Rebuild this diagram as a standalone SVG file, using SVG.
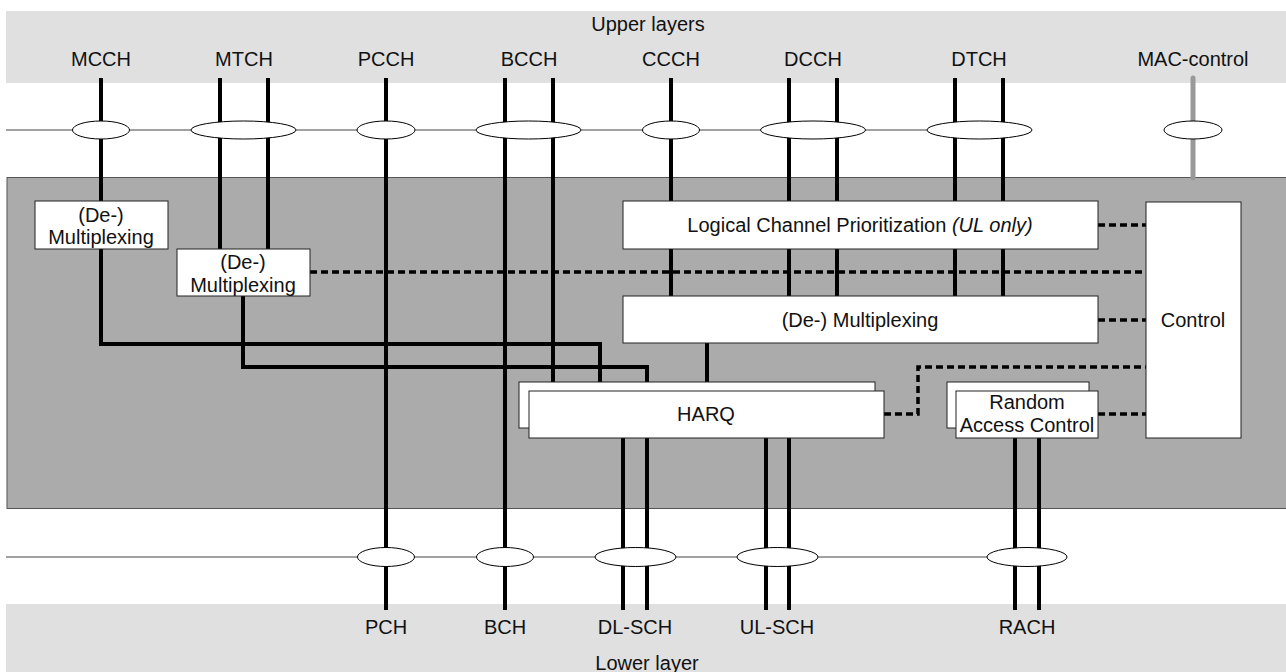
<svg xmlns="http://www.w3.org/2000/svg" width="1286" height="672" viewBox="0 0 1286 672">
<style>
text{font-family:"Liberation Sans",Arial,sans-serif;font-size:20px;fill:#111;text-anchor:middle}
.band{fill:#e0e0e0}
.thin{stroke:#444;stroke-width:1;fill:none}
.ch{stroke:#000;stroke-width:4;fill:none;stroke-linejoin:miter}
.dash{stroke:#000;stroke-width:3.5;fill:none;stroke-dasharray:7 4}
.ell{fill:#fff;stroke:#000;stroke-width:1}
.box{fill:#fff;stroke:#222;stroke-width:1}
</style>
<rect width="1286" height="672" fill="#fff"/>
<rect class="band" x="6" y="11" width="1280" height="72"/>
<rect class="band" x="6" y="604" width="1280" height="68"/>
<text x="648" y="31">Upper layers</text>
<text x="647" y="670">Lower layer</text>
<g id="upper-labels">
<text x="101" y="66">MCCH</text>
<text x="244" y="66">MTCH</text>
<text x="386" y="66">PCCH</text>
<text x="529" y="66">BCCH</text>
<text x="671" y="66">CCCH</text>
<text x="813" y="66">DCCH</text>
<text x="979" y="66">DTCH</text>
<text x="1193" y="66">MAC-control</text>
</g>
<g id="lower-labels">
<text x="386" y="634">PCH</text>
<text x="505" y="634">BCH</text>
<text x="635" y="634">DL-SCH</text>
<text x="777" y="634">UL-SCH</text>
<text x="1027" y="634">RACH</text>
</g>
<path class="thin" d="M6 130H927M6 557H987"/>
<rect id="mac-entity" x="7" y="177.5" width="1280" height="331" fill="#ababab" stroke="#555" stroke-width="1"/>
<g id="connectors">
<path class="ch" d="M101 78V344H600V382"/>
<path class="ch" d="M220 78V249M268 78V249"/>
<path class="ch" d="M243 296V367H647V382"/>
<path class="ch" d="M386 78V610"/>
<path class="ch" d="M505 78V610M553 78V382"/>
<path class="ch" d="M671 78V296M789 78V296M837 78V296M955 78V296M1003 78V296"/>
<path class="ch" d="M707 343V382"/>
<path class="ch" d="M623 438V610M647 438V610M766 438V610M789 438V610M1015 438V610M1039 438V610"/>
<path d="M1193 78V178" stroke="#999" stroke-width="5" stroke-linecap="round" fill="none"/>
<path class="dash" d="M1098 225H1146"/>
<path class="dash" d="M310 272H1146"/>
<path class="dash" d="M1098 320H1146"/>
<path class="dash" d="M884 414H918V367H1146"/>
<path class="dash" d="M1098 414H1146"/>
</g>
<g id="sap-upper">
<ellipse class="ell" cx="101" cy="130" rx="28.5" ry="9"/>
<ellipse class="ell" cx="243.5" cy="130" rx="52.5" ry="9"/>
<ellipse class="ell" cx="386" cy="130" rx="29" ry="9"/>
<ellipse class="ell" cx="528.5" cy="130" rx="52.5" ry="9"/>
<ellipse class="ell" cx="671" cy="130" rx="28.5" ry="9"/>
<ellipse class="ell" cx="813" cy="130" rx="52.5" ry="9"/>
<ellipse class="ell" cx="979.5" cy="130" rx="52.5" ry="9"/>
<ellipse class="ell" cx="1193" cy="130" rx="29" ry="9"/>
</g>
<g id="sap-lower">
<ellipse class="ell" cx="386" cy="557" rx="28.5" ry="9.5"/>
<ellipse class="ell" cx="505" cy="557" rx="28.5" ry="9.5"/>
<ellipse class="ell" cx="635.5" cy="557" rx="40.5" ry="9.5"/>
<ellipse class="ell" cx="777.5" cy="557" rx="40.5" ry="9.5"/>
<ellipse class="ell" cx="1027" cy="557" rx="40" ry="9.5"/>
</g>
<g id="demux-mcch">
<rect class="box" x="35" y="201" width="133" height="48"/>
<text x="101" y="222">(De-)</text>
<text x="101" y="244">Multiplexing</text>
</g>
<g id="demux-mtch">
<rect class="box" x="177" y="249" width="133" height="47"/>
<text x="243" y="269">(De-)</text>
<text x="243" y="292">Multiplexing</text>
</g>
<g id="lcp">
<rect class="box" x="623" y="201" width="475" height="48"/>
<text x="860" y="232">Logical Channel Prioritization <tspan font-style="italic">(UL only)</tspan></text>
</g>
<g id="demux-main">
<rect class="box" x="623" y="296" width="475" height="47"/>
<text x="860" y="327">(De-) Multiplexing</text>
</g>
<g id="harq">
<rect class="box" x="519" y="382" width="356" height="46"/>
<rect class="box" x="529" y="391" width="355" height="47"/>
<text x="706" y="421">HARQ</text>
</g>
<g id="rac">
<rect class="box" x="947" y="382" width="142" height="46"/>
<rect class="box" x="956" y="391" width="142" height="47"/>
<text x="1027" y="409">Random</text>
<text x="1027" y="432">Access Control</text>
</g>
<g id="control">
<rect class="box" x="1146" y="202" width="95" height="236"/>
<text x="1193" y="327">Control</text>
</g>
</svg>
